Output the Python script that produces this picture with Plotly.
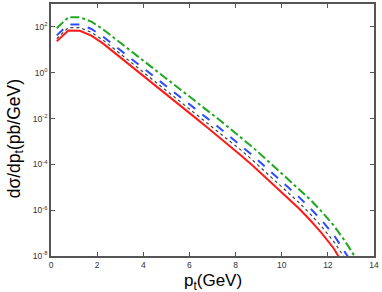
import plotly.graph_objects as go

pt = [0.25, 0.75, 1.25, 1.75, 2.25, 2.75, 3.25, 3.75, 4.25, 4.75, 5.25, 5.75, 6.25,
      6.75, 7.25, 7.75, 8.25, 8.75, 9.25, 9.75, 10.25, 10.75, 11.25, 11.75, 12.25,
      12.75, 13.25, 13.75]

# log10 of dsigma/dpt (pb/GeV)
red_log10 = [1.37, 1.84, 1.83, 1.62, 1.28, 0.88, 0.47, 0.06, -0.36, -0.76, -1.16, -1.56,
             -1.96, -2.37, -2.78, -3.20, -3.62, -4.06, -4.52, -4.98, -5.45, -5.93, -6.45,
             -7.02, -7.66, -8.45, -9.30, -10.2]
black_log10 = [1.49, 1.97, 1.97, 1.76, 1.43, 1.04, 0.63, 0.23, -0.18, -0.58, -0.97, -1.37,
               -1.76, -2.16, -2.57, -2.98, -3.39, -3.83, -4.28, -4.73, -5.20, -5.67, -6.18,
               -6.74, -7.36, -8.06, -8.85, -9.70]
blue_log10 = [1.63, 2.11, 2.11, 1.91, 1.58, 1.19, 0.79, 0.39, -0.02, -0.41, -0.79, -1.18,
              -1.57, -1.97, -2.37, -2.78, -3.19, -3.62, -4.07, -4.52, -4.97, -5.43, -5.93,
              -6.47, -7.07, -7.82, -8.52, -9.40]
green_log10 = [1.94, 2.42, 2.42, 2.23, 1.90, 1.51, 1.12, 0.72, 0.31, -0.07, -0.46, -0.84,
               -1.23, -1.63, -2.02, -2.43, -2.84, -3.26, -3.71, -4.16, -4.61, -5.06, -5.55,
               -6.08, -6.66, -7.36, -8.15, -8.95]

xticks = [0, 2, 4, 6, 8, 10, 12, 14]
ytick_exp = [-8, -6, -4, -2, 0, 2]

def vals(lst):
    return [10 ** v for v in lst]

fig = go.Figure()
fig.add_trace(go.Scatter(x=pt, y=vals(green_log10), mode="lines",
                         line=dict(color="#1fa81f", width=2, dash="dashdot")))
fig.add_trace(go.Scatter(x=pt, y=vals(blue_log10), mode="lines",
                         line=dict(color="#2b4cff", width=2, dash="dash")))
fig.add_trace(go.Scatter(x=pt, y=vals(black_log10), mode="lines",
                         line=dict(color="#444444", width=1.2, dash="dot")))
fig.add_trace(go.Scatter(x=pt, y=vals(red_log10), mode="lines",
                         line=dict(color="#ff1a1a", width=2)))

axis_common = dict(showgrid=False, zeroline=False, showline=True, mirror="ticks",
                   linecolor="#555555", linewidth=1.5, ticks="inside", ticklen=4,
                   tickcolor="#555555",
                   tickfont=dict(family="Liberation Sans, Arial", size=8.5, color="#333333"))

fig.update_layout(
    width=382, height=292,
    margin=dict(l=51, r=8, t=2, b=36),
    paper_bgcolor="white", plot_bgcolor="white",
    showlegend=False,
    xaxis=dict(range=[0, 14], tickvals=xticks, ticktext=[str(v) for v in xticks],
               **axis_common),
    yaxis=dict(type="log", range=[-8, 3],
               tickvals=[10 ** e for e in ytick_exp],
               ticktext=["10<sup>%d</sup>" % e for e in ytick_exp],
               **axis_common),
    annotations=[
        dict(text="p<sub>t</sub>(GeV)", x=0.5, y=-0.052, xref="paper", yref="paper",
             xanchor="center", yanchor="top", showarrow=False,
             font=dict(family="Liberation Sans, Arial", size=17, color="black")),
        dict(text="dσ/dp<sub>t</sub>(pb/GeV)", x=-0.11, y=0.465, xref="paper", yref="paper",
             xanchor="center", yanchor="middle", textangle=-90, showarrow=False,
             font=dict(family="Liberation Sans, Arial", size=17.5, color="black")),
    ],
)

fig.write_html("out.html", config={"displayModeBar": False},
               post_script="document.body.style.margin='0';document.body.style.overflow='hidden';")
